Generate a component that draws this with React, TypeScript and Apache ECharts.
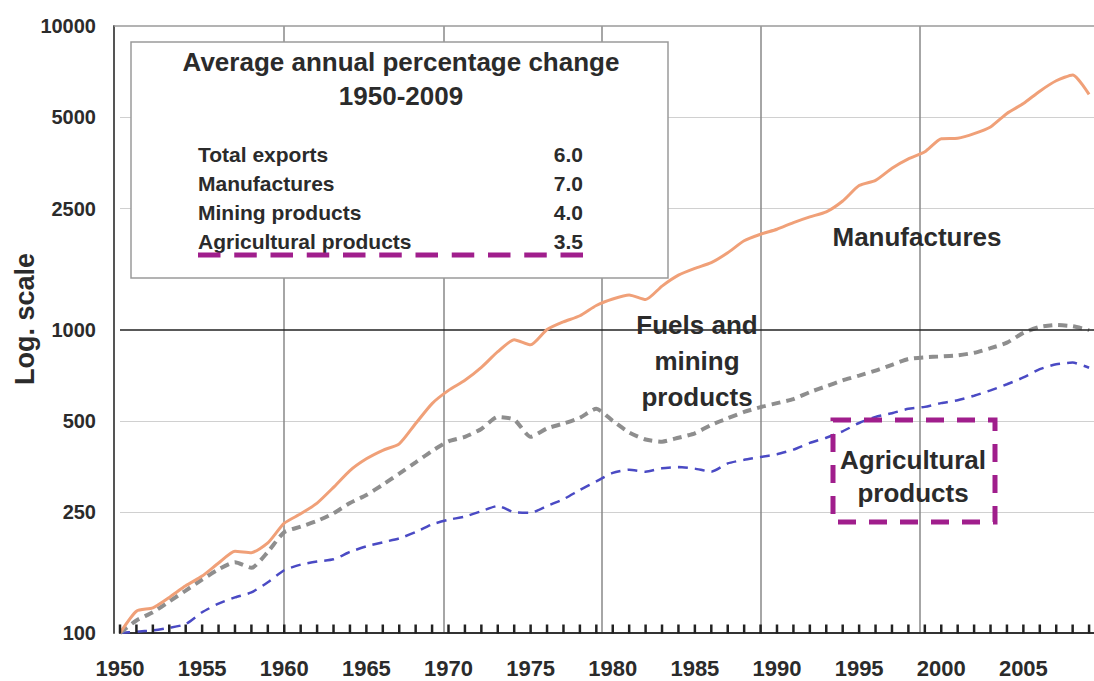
import React, { useEffect, useRef } from 'react';
import * as echarts from 'echarts';

const years = [
  1950, 1951, 1952, 1953, 1954, 1955, 1956, 1957, 1958, 1959,
  1960, 1961, 1962, 1963, 1964, 1965, 1966, 1967, 1968, 1969,
  1970, 1971, 1972, 1973, 1974, 1975, 1976, 1977, 1978, 1979,
  1980, 1981, 1982, 1983, 1984, 1985, 1986, 1987, 1988, 1989,
  1990, 1991, 1992, 1993, 1994, 1995, 1996, 1997, 1998, 1999,
  2000, 2001, 2002, 2003, 2004, 2005, 2006, 2007, 2008, 2009,
];

const manufactures = [
  100, 118, 121, 131, 143, 154, 170, 186, 184, 198,
  230, 247, 268, 302, 343, 375, 400, 420, 490, 570,
  630, 680, 750, 845, 925, 890, 1000, 1060, 1110, 1200,
  1260, 1300, 1255, 1390, 1510, 1590, 1660, 1790, 1960, 2060,
  2140, 2250, 2350, 2440, 2650, 2980, 3100, 3400, 3650, 3850,
  4250, 4270, 4420, 4650, 5150, 5550, 6100, 6600, 6900, 5950,
];

const fuelsMining = [
  100, 110, 117, 127, 138, 150, 162, 171, 164, 185,
  215, 224, 234, 248, 268, 285, 308, 335, 365, 398,
  428, 443, 470, 515, 505, 443, 472, 490, 512, 548,
  500, 458, 434, 427, 440, 455, 485, 510, 535, 555,
  572, 590, 622, 650, 680, 705, 732, 765, 800, 810,
  815, 822, 838, 868, 905, 975, 1020, 1035, 1025, 995,
];

const agricultural = [
  100, 101, 102, 104, 107, 117, 125, 131, 136, 147,
  161, 168, 172, 175, 185, 193, 199, 205, 215, 228,
  236, 242, 252, 262, 250, 249, 262, 276, 296, 316,
  337, 345, 340, 349, 352, 348, 340, 362, 372, 380,
  388, 402, 423, 440, 462, 492, 515, 530, 548, 556,
  572, 585, 605, 630, 660, 695, 740, 768, 778, 748,
];

const seriesNames = ['Manufactures', 'Fuels and mining products', 'Agricultural products'];
const yTickLabels = [100, 250, 500, 1000, 2500, 5000, 10000];
const yGridValues = [250, 500, 2500, 5000];
const yStrongLine = 1000;
const yAxisMin = 100;
const xGridYears = [1960, 1969.7, 1979.35, 1989, 1998.7];
const yAxisName = 'Log. scale';

const boxTitle = ['Average annual percentage change', '1950-2009'];
const boxRows = ['Total exports', 'Manufactures', 'Mining products', 'Agricultural products'];
const boxValues = [6.0, 7.0, 4.0, 3.5];

const annotations = ['Manufactures', 'Fuels and\nmining\nproducts', 'Agricultural\nproducts'];

const FONT = "'Liberation Sans', Arial, sans-serif";
const TXT = '#2b2b2b';
const PURPLE = '#a01e8c';

export default function App() {
  const ref = useRef<HTMLDivElement>(null);

  useEffect(() => {
    if (!ref.current) return;
    const chart = echarts.init(ref.current, undefined, { renderer: 'svg' });

    const txt = (x: number, y: number, text: string, size: number, align: string, lh?: number, extra: any = {}) => ({
      type: 'text',
      x,
      y,
      z: 100,
      ...extra,
      style: {
        text,
        fill: TXT,
        font: `bold ${size}px ${FONT}`,
        textAlign: align,
        align,
        textVerticalAlign: 'middle',
        verticalAlign: 'middle',
        lineHeight: lh,
      },
    });

    const graphics: any[] = [
      txt(25, 319, yAxisName, 27, 'center', undefined, { rotation: Math.PI / 2 }),
      {
        type: 'line',
        z: 99,
        shape: { x1: 114, y1: 26, x2: 1094, y2: 26 },
        style: { stroke: '#9a9a9a', lineWidth: 1.5 },
      },
      {
        type: 'rect',
        z: 100,
        shape: { x: 131, y: 42, width: 537, height: 236 },
        style: { fill: '#fff', stroke: '#9a9a9a', lineWidth: 1.5 },
      },
      txt(401, 62, boxTitle[0], 26, 'center'),
      txt(401, 96, boxTitle[1], 26, 'center'),
      ...boxRows.map((r, i) => txt(198, 154 + i * 29, r, 21, 'left')),
      ...boxValues.map((v, i) => txt(583, 154 + i * 29, v.toFixed(1), 21, 'right')),
      {
        type: 'line',
        z: 101,
        shape: { x1: 198, y1: 255, x2: 583, y2: 255 },
        style: { stroke: PURPLE, lineWidth: 5, lineDash: [22.5, 13.75] },
      },
      txt(917, 237, annotations[0], 26, 'center'),
      txt(697, 361, annotations[1], 26, 'center', 36),
      txt(913, 476, annotations[2], 26, 'center', 33),
      {
        type: 'rect',
        z: 101,
        shape: { x: 833, y: 420, width: 162, height: 102 },
        style: { fill: 'none', stroke: PURPLE, lineWidth: 5, lineDash: [18, 13] },
      },
    ];

    const mk = (vals: number[]) => years.map((y, i) => [y, vals[i]]);

    chart.setOption({
      animation: false,
      backgroundColor: '#ffffff',
      grid: { left: 120, right: 0, top: 26, bottom: 48 },
      xAxis: [
        {
          type: 'value',
          min: 1950,
          max: 2009.3,
          interval: 5,
          position: 'bottom',
          axisLine: { show: true, onZero: false, lineStyle: { color: '#333', width: 2 } },
          axisTick: { show: false },
          splitLine: { show: false },
          axisLabel: {
            fontFamily: FONT,
            fontSize: 22,
            fontWeight: 'bold',
            color: TXT,
            margin: 24,
            showMaxLabel: false,
            formatter: (v: number) => (v % 5 === 0 ? String(v) : ''),
          },
        },
        {
          type: 'value',
          min: 1950,
          max: 2009.3,
          position: 'top',
          axisLine: { show: false },
          axisTick: { show: false, customValues: xGridYears },
          axisLabel: { show: false },
          splitLine: { show: true, lineStyle: { color: '#888', width: 1.5 } },
        },
      ],
      yAxis: {
        type: 'log',
        logBase: 10,
        min: yAxisMin,
        max: 10000,
        offset: 6,
        axisLine: { show: true, lineStyle: { color: '#555', width: 2 } },
        axisTick: { show: false, customValues: yGridValues },
        axisLabel: {
          customValues: yTickLabels,
          fontFamily: FONT,
          fontSize: 20,
          fontWeight: 'bold',
          color: TXT,
          margin: 18,
          formatter: (v: number) => String(Math.round(v)),
        },
        splitLine: { show: true, lineStyle: { color: '#d0d0d0', width: 1.2 } },
      },
      graphic: graphics,
      series: [
        {
          name: 'year ticks',
          type: 'scatter',
          silent: true,
          clip: false,
          data: years.map((y) => [y, yAxisMin]),
          symbol: 'rect',
          symbolSize: [2.5, 9],
          symbolOffset: [0, -4],
          itemStyle: { color: '#222', opacity: 1 },
          z: 10,
        },
        {
          name: seriesNames[2],
          type: 'line',
          data: mk(agricultural),
          showSymbol: false,
          symbol: 'none',
          smooth: 0.2,
          lineStyle: { color: '#4a4ac4', width: 2.5, type: [10, 7] },
          z: 3,
        },
        {
          name: seriesNames[1],
          type: 'line',
          data: mk(fuelsMining),
          showSymbol: false,
          symbol: 'none',
          smooth: 0.2,
          lineStyle: { color: '#8e8e8e', width: 4, type: [9, 6] },
          z: 4,
          markLine: {
            silent: true,
            symbol: ['none', 'none'],
            label: { show: false },
            lineStyle: { color: '#222', width: 1.6, type: 'solid' },
            data: [{ yAxis: yStrongLine }],
          },
        },
        {
          name: seriesNames[0],
          type: 'line',
          data: mk(manufactures),
          showSymbol: false,
          symbol: 'none',
          smooth: 0.2,
          lineStyle: { color: '#f0a078', width: 3 },
          z: 5,
        },
      ],
    });

    return () => chart.dispose();
  }, []);

  return (
    <div
      ref={ref}
      style={{ position: 'absolute', left: 0, top: 0, width: 1094, height: 681, background: '#fff' }}
    />
  );
}
